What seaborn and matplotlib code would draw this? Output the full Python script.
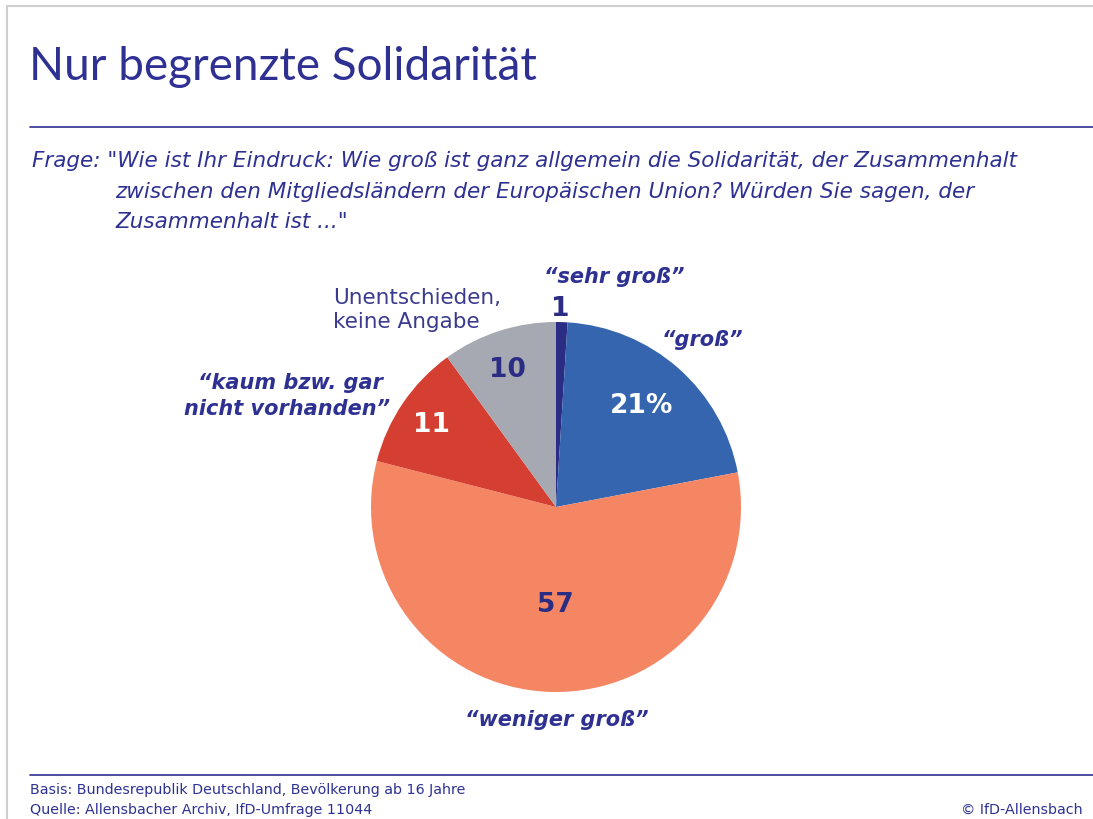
import matplotlib
matplotlib.use("Agg")
import matplotlib.pyplot as plt
import seaborn as sns

# Survey answers (share in %), clockwise from 12 o'clock
categories = ["sehr groß", "groß", "weniger groß", "kaum bzw. gar nicht vorhanden", "Unentschieden, keine Angabe"]
shares = [1, 21, 57, 11, 10]
value_labels = ["1", "21%", "57", "11", "10"]
colors = ["#2b2d84", "#3465ae", "#f58664", "#d53f32", "#a6a9b2"]
value_colors = ["#2b2d84", "white", "#2b2d84", "white", "#2b2d84"]

sns.set_style("white")
plt.rcParams["font.family"] = ["DejaVu Sans"]

navy = "#2e3192"
W, H = 1093, 820

fig = plt.figure(figsize=(W / 100, H / 100), dpi=100)
ax = fig.add_axes([0, 0, 1, 1])


def y(py):
    # pixel row from the top -> data y
    return H - py


# pie
wedges, _ = ax.pie(shares, colors=colors, startangle=90, counterclock=False,
                   center=(556, y(508)), radius=185, frame=True,
                   wedgeprops=dict(linewidth=0))
ax.set_xlim(0, W)
ax.set_ylim(0, H)
ax.set_aspect("equal")
ax.axis("off")

# frame lines
ax.plot([7, W], [y(7), y(7)], color="#cfcfcf", lw=1.5)
ax.plot([7, 7], [y(7), 0], color="#cfcfcf", lw=1.5)

# title and rules
ax.text(29, y(67), "Nur begrenzte Solidarität", color=navy, fontsize=33,
        family=["Lato", "DejaVu Sans"], va="center", ha="left")
ax.plot([30, W], [y(128), y(128)], color=navy, lw=1.2)

q_kw = dict(color=navy, fontsize=15.5, style="italic", va="center", ha="left")
ax.text(32, y(161), 'Frage: "Wie ist Ihr Eindruck: Wie groß ist ganz allgemein die Solidarität, der Zusammenhalt', **q_kw)
ax.text(115, y(192), "zwischen den Mitgliedsländern der Europäischen Union? Würden Sie sagen, der", **q_kw)
ax.text(115, y(222), 'Zusammenhalt ist ..."', **q_kw)

# values inside / near slices
val_pos = [(560, 309), (642, 406), (555, 605), (431, 425), (507, 370)]
for (px, py), txt, c in zip(val_pos, value_labels, value_colors):
    ax.text(px, y(py), txt, color=c, fontsize=19, fontweight="bold",
            ha="center", va="center")

# category labels
lab_kw = dict(color=navy, fontsize=15, fontweight="bold", style="italic", va="center")
ax.text(614, y(277), "\u201csehr groß\u201d", ha="center", **lab_kw)
ax.text(702, y(340), "\u201cgroß\u201d", ha="center", **lab_kw)
ax.text(557, y(720), "\u201cweniger groß\u201d", ha="center", **lab_kw)
ax.text(390, y(396), "\u201ckaum bzw. gar \nnicht vorhanden\u201d", ha="right",
        multialignment="right", linespacing=1.4, **lab_kw)
ax.text(333, y(310), "Unentschieden,\nkeine Angabe", ha="left", va="center",
        color="#3a3b8f", fontsize=15.5, linespacing=1.3)

# footer
ax.plot([30, W], [y(776), y(776)], color=navy, lw=1.2)
ax.text(30, y(790), "Basis: Bundesrepublik Deutschland, Bevölkerung ab 16 Jahre",
        color=navy, fontsize=10.3, va="center", ha="left")
ax.text(30, y(810), "Quelle: Allensbacher Archiv, IfD-Umfrage 11044",
        color=navy, fontsize=10.3, va="center", ha="left")
ax.text(1083, y(810), "© IfD-Allensbach", color=navy, fontsize=10.3,
        va="center", ha="right")

fig.savefig("out.png", dpi=100)
